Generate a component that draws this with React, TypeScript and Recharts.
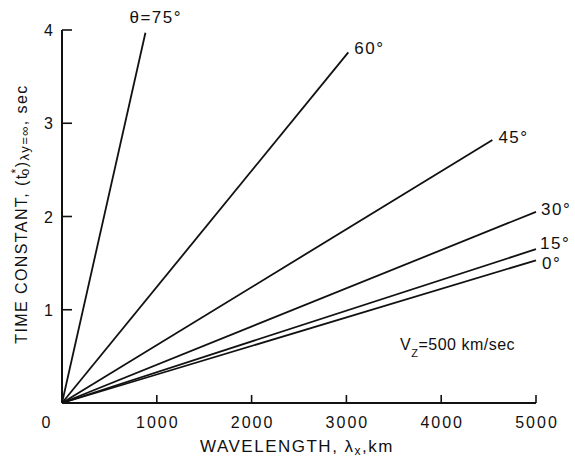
import { LineChart, Line, XAxis, YAxis, Customized } from "recharts";

const FONT = "'Liberation Sans', Arial, sans-serif";
const INK = "#111";

// one straight line per angle, from the origin out to where it was cut off
const angleLabels = ["0°", "15°", "30°", "45°", "60°", "θ=75°"];
const endWavelength = [5000, 5000, 5000, 4540, 3020, 880];
const endTime = [1.53, 1.65, 2.05, 2.82, 3.76, 3.97];

const xTicks = [0, 1000, 2000, 3000, 4000, 5000];
const yTicks = [1, 2, 3, 4];

// label nudges (px) from the end of each line
const labelNudge: [number, number][] = [
  [6, 3],
  [4, -6],
  [5, -2],
  [6, -3],
  [6, -4],
  [-16, -15],
];

const XTick = ({ x, y, payload }: any) => {
  const v = payload.value;
  return (
    <g>
      {v !== 0 && <line x1={x} y1={y} x2={x} y2={y - 8} stroke={INK} strokeWidth={1.6} />}
      <text
        x={v === 0 ? x - 15 : x + 1}
        y={y + 25}
        textAnchor="middle"
        fontFamily={FONT}
        fontSize={16}
        letterSpacing={2}
        fill={INK}
      >
        {v}
      </text>
    </g>
  );
};

const YTick = ({ x, y, payload }: any) => (
  <g>
    <line x1={x} y1={y} x2={x + 10} y2={y} stroke={INK} strokeWidth={1.6} />
    <text x={x - 9} y={y + 6} textAnchor="end" fontFamily={FONT} fontSize={16} fill={INK}>
      {payload.value}
    </text>
  </g>
);

const AxisTitles = () => (
  <g fontFamily={FONT} fill={INK}>
    <text
      transform="translate(27,214) rotate(-90)"
      textAnchor="middle"
      fontSize={16}
      letterSpacing={1.4}
    >
      TIME CONSTANT, (t
      <tspan dy={-7} fontSize={12}>*</tspan>
      <tspan dx={-8} dy={9} fontSize={12}>o</tspan>
      <tspan dy={-2}>)</tspan>
      <tspan dy={2} fontSize={13}>λy=∞</tspan>
      <tspan dy={-2}>, sec</tspan>
    </text>
    <text x={297} y={452} textAnchor="middle" fontSize={17} letterSpacing={1.5}>
      WAVELENGTH, λ
      <tspan dy={3} fontSize={12}>x</tspan>
      <tspan dy={-3}>,km</tspan>
    </text>
    <text x={400} y={350} fontSize={16} letterSpacing={0.5}>
      V
      <tspan dy={7} fontSize={11}>Z</tspan>
      <tspan dy={-7}>=500 km/sec</tspan>
    </text>
  </g>
);

export default function App() {
  return (
    <div style={{ position: "absolute", left: 0, top: 0, width: 575, height: 459, background: "#fff" }}>
      <LineChart width={575} height={459} margin={{ top: 30, right: 39, bottom: 26, left: 2 }}>
        <XAxis
          type="number"
          dataKey="x"
          domain={[0, 5000]}
          ticks={xTicks}
          height={30}
          tickSize={0}
          tickMargin={0}
          tickLine={false}
          axisLine={{ stroke: INK, strokeWidth: 2 }}
          tick={<XTick />}
          interval={0}
        />
        <YAxis
          type="number"
          dataKey="t"
          domain={[0, 4]}
          ticks={yTicks}
          width={60}
          tickSize={0}
          tickMargin={0}
          tickLine={false}
          axisLine={{ stroke: INK, strokeWidth: 2 }}
          tick={<YTick />}
          interval={0}
        />
        {angleLabels.map((name, i) => (
          <Line
            key={name}
            data={[
              { x: 0, t: 0 },
              { x: endWavelength[i], t: endTime[i] },
            ]}
            dataKey="t"
            stroke={INK}
            strokeWidth={1.8}
            dot={false}
            activeDot={false}
            isAnimationActive={false}
            label={(p: any) =>
              p.index === 1 ? (
                <text
                  key={name}
                  x={p.x + labelNudge[i][0]}
                  y={p.y + labelNudge[i][1]}
                  dominantBaseline="central"
                  fontFamily={FONT}
                  fontSize={17}
                  letterSpacing={1.5}
                  fill={INK}
                >
                  {name}
                </text>
              ) : (
                <g key={`${name}-0`} />
              )
            }
          />
        ))}
        <Customized component={<AxisTitles />} />
      </LineChart>
    </div>
  );
}
